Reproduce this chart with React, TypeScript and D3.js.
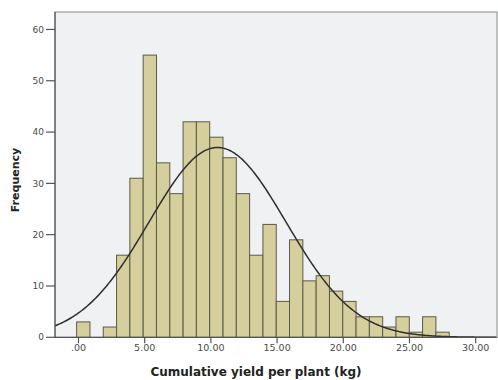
import React from "react";
import * as d3 from "d3";

// Histogram bins: lower edge of first bin, bin width, counts
const binStart = -0.14;
const binWidth = 1.005;
const counts = [3, 0, 2, 16, 31, 55, 34, 28, 42, 42, 39, 35, 28, 16, 22, 7, 19, 11, 12, 9, 7, 4, 4, 2, 4, 1, 4, 1];
// Normal curve parameters
const curveMean = 10.5;
const curveSd = 5.18;
// Axis ticks
const xTicks = [0, 5, 10, 15, 20, 25, 30];
const xTickLabels = [".00", "5.00", "10.00", "15.00", "20.00", "25.00", "30.00"];
const yTicks = [0, 10, 20, 30, 40, 50, 60];

const W = 498;
const H = 380;
const L = 55, R = 497, T = 12, B = 337.3;

export default function App() {
  const x = d3.scaleLinear().domain([-1.775, 31.61]).range([L, R]);
  const y = d3.scaleLinear().domain([0, 63.4]).range([B, T]);
  const n = d3.sum(counts);
  const bins = counts.map((c, i) => ({ x0: binStart + i * binWidth, x1: binStart + (i + 1) * binWidth, c }));
  const pts = d3.range(-1.775, 31.61, 0.1).map((v) => {
    const z = (v - curveMean) / curveSd;
    return [v, (n * binWidth) / (curveSd * Math.sqrt(2 * Math.PI)) * Math.exp(-0.5 * z * z)] as [number, number];
  });
  const line = d3.line<[number, number]>().x((d) => x(d[0])).y((d) => y(d[1])).curve(d3.curveBasis);
  const font = "'DejaVu Sans', Verdana, sans-serif";
  return (
    <svg width={W} height={H} style={{ position: "absolute", left: 0, top: 0, background: "#fff" }}>
      <rect x={L} y={T} width={R - L} height={B - T} fill="#f0f1f3" stroke="#8a8a8a" strokeWidth={1} />
      <defs>
        <clipPath id="plotclip">
          <rect x={L} y={T} width={R - L} height={B - T} />
        </clipPath>
      </defs>
      {bins.filter((b) => b.c > 0).map((b, i) => (
        <rect key={i} x={x(b.x0)} y={y(b.c)} width={x(b.x1) - x(b.x0)} height={y(0) - y(b.c)}
          fill="#d4cf9c" stroke="#5b5a45" strokeWidth={1} />
      ))}
      <path d={line(pts) || ""} fill="none" stroke="#2e2e2e" strokeWidth={1.5} clipPath="url(#plotclip)" />
      <line x1={L} x2={R} y1={B} y2={B} stroke="#555" strokeWidth={1.2} />
      <line x1={L} x2={L} y1={T} y2={B} stroke="#555" strokeWidth={1.2} />
      {yTicks.map((t) => (
        <g key={t}>
          <line x1={L - 9} x2={L} y1={y(t)} y2={y(t)} stroke="#555" strokeWidth={1.2} />
          <text x={L - 11} y={y(t)} dy="0.35em" textAnchor="end" fontSize={9} fill="#4a4a4a" fontFamily={font}>{t}</text>
        </g>
      ))}
      {xTicks.map((t, i) => (
        <g key={t}>
          <line x1={x(t)} x2={x(t)} y1={B} y2={B + 6} stroke="#555" strokeWidth={1.2} />
          <text x={x(t)} y={B + 14} textAnchor="middle" fontSize={9.5} fill="#4a4a4a" fontFamily={font}>{xTickLabels[i]}</text>
        </g>
      ))}
      <text x={256} y={376} textAnchor="middle" fontSize={12} fontWeight="bold" fill="#222" fontFamily={font}>Cumulative yield per plant (kg)</text>
      <text transform="translate(19,180) rotate(-90)" textAnchor="middle" fontSize={11} fontWeight="bold" fill="#222" fontFamily={font}>Frequency</text>
    </svg>
  );
}
